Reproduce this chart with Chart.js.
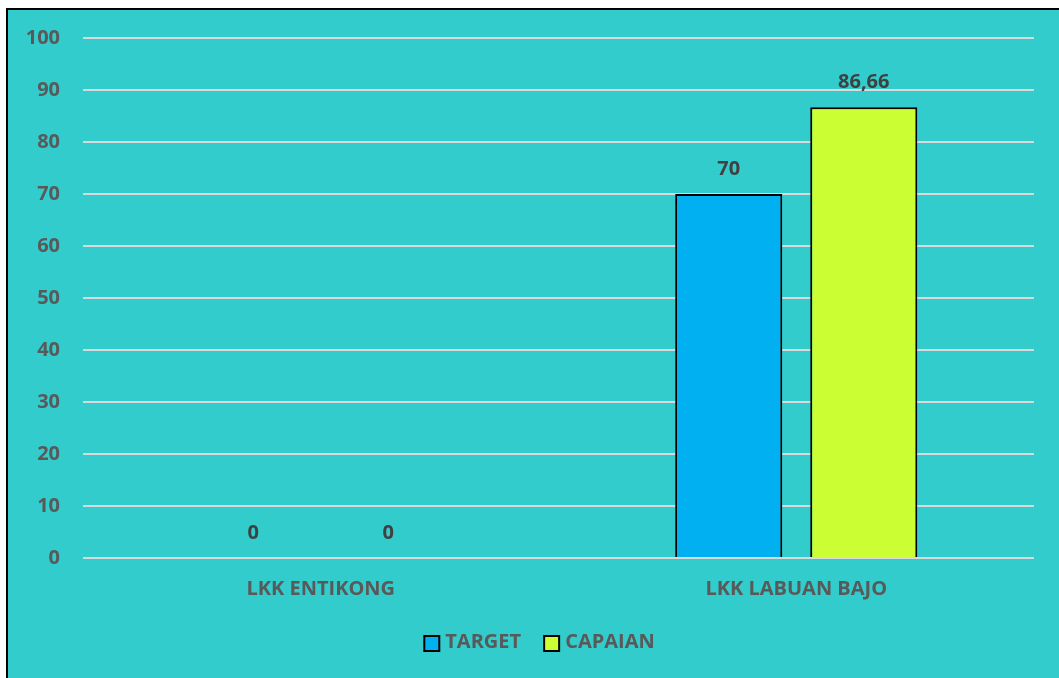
<!DOCTYPE html>
<html>
<head>
<meta charset="utf-8">
<script src="https://cdn.jsdelivr.net/npm/chart.js@4/dist/chart.umd.min.js"></script>
<style>
  html, body { margin: 0; padding: 0; background: #ffffff; overflow: hidden; }
  #frame { position: absolute; left: 6px; top: 8px; width: 1053px; height: 670px;
           border-left: 2px solid #000; border-top: 2px solid #000; background: #33CCCC; }
  canvas { display: block; }
</style>
</head>
<body>
<div id="frame"><canvas id="c" width="1051" height="668"></canvas></div>
<script>
const categories = ["LKK ENTIKONG", "LKK LABUAN BAJO"];
const seriesNames = ["TARGET", "CAPAIAN"];
const targetValues = [0, 70];
const capaianValues = [0, 86.66];
const yTicks = { min: 0, max: 100, step: 10 };

const FONT = "'Open Sans', 'DejaVu Sans', sans-serif";

const dataLabels = {
  id: 'dataLabels',
  afterDatasetsDraw(chart) {
    const ctx = chart.ctx;
    ctx.save();
    ctx.font = "bold 20px " + FONT;
    ctx.fillStyle = '#404040';
    ctx.textAlign = 'center';
    ctx.textBaseline = 'middle';
    chart.data.datasets.forEach((ds, i) => {
      chart.getDatasetMeta(i).data.forEach((bar, j) => {
        const v = ds.data[j];
        const txt = String(v).replace('.', ',');
        ctx.fillText(txt, bar.x, bar.y - 25);
      });
    });
    ctx.restore();
  }
};

const bottomLegend = {
  id: 'bottomLegend',
  afterDraw(chart) {
    const ctx = chart.ctx;
    ctx.save();
    ctx.font = "bold 20px " + FONT;
    ctx.textBaseline = 'middle';
    ctx.textAlign = 'left';
    const box = 15, gapText = 6, gapItem = 23;
    const items = chart.data.datasets.map(ds => ({ ds, w: box + gapText + ctx.measureText(ds.label).width }));
    const total = items.reduce((a, it) => a + it.w, 0) + gapItem * (items.length - 1);
    let x = chart.width / 2 + 6 - total / 2;
    const cy = 633.5;
    items.forEach(it => {
      ctx.fillStyle = it.ds.backgroundColor;
      ctx.fillRect(x, cy - box / 2, box, box);
      ctx.strokeStyle = '#000';
      ctx.lineWidth = 2;
      ctx.strokeRect(x, cy - box / 2, box, box);
      ctx.fillStyle = '#595959';
      ctx.fillText(it.ds.label, x + box + gapText, cy - 1);
      x += it.w + gapItem;
    });
    ctx.restore();
  }
};

new Chart(document.getElementById('c'), {
  type: 'bar',
  data: {
    labels: categories,
    datasets: [
      { label: seriesNames[0], data: targetValues, backgroundColor: '#00B0F0', borderColor: '#000000', borderWidth: 2, borderSkipped: 'bottom' },
      { label: seriesNames[1], data: capaianValues, backgroundColor: '#CCFF33', borderColor: '#000000', borderWidth: 2, borderSkipped: 'bottom' }
    ]
  },
  options: {
    responsive: false,
    animation: false,
    devicePixelRatio: 1,
    layout: { padding: { left: 0, right: 25, top: 28, bottom: 65 } },
    datasets: { bar: { categoryPercentage: 0.568, barPercentage: 0.793 } },
    plugins: {
      legend: { display: false },
      tooltip: { enabled: false }
    },
    scales: {
      x: {
        grid: { display: false, drawTicks: false },
        border: { display: false },
        ticks: { color: '#595959', padding: 19, font: { family: FONT, size: 20, weight: 'bold' } },
        afterFit(s) { s.height = 55; s.paddingLeft = 0; s.paddingRight = 0; }
      },
      y: {
        min: yTicks.min, max: yTicks.max,
        grid: { color: '#D9D9D9', lineWidth: 2, drawTicks: false },
        border: { display: false },
        ticks: { stepSize: yTicks.step, color: '#595959', padding: 23, font: { family: FONT, size: 20, weight: 'bold' } },
        afterFit(s) { s.width = 75; s.paddingTop = 0; s.paddingBottom = 0; }
      }
    }
  },
  plugins: [dataLabels, bottomLegend]
});
</script>
</body>
</html>
